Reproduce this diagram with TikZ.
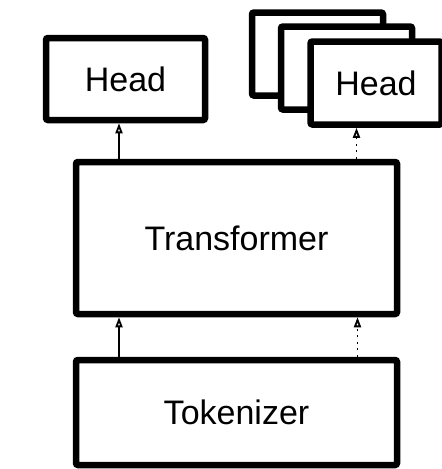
\documentclass[tikz,border=0pt]{standalone}
\usepackage{fontspec}
\setmainfont{Liberation Sans}
\usetikzlibrary{arrows.meta}
\tikzset{block/.style={draw,line width=6.5pt,rounded corners=2pt,fill=white,
        inner sep=0pt,font=\fontsize{34}{40}\selectfont},
    headbox/.style={block,minimum width=159pt,minimum height=82pt},
    stackbox/.style={block,minimum width=131pt,minimum height=83pt},
    bigbox/.style={block,minimum width=321pt},
    flow/.style={-{Triangle[open,width=7pt,length=10pt]},line width=1.8pt},
    dotflow/.style={flow,dash pattern=on 2pt off 4.5pt}}

\begin{document}
\begin{tikzpicture}[x=1pt,y=-1pt]
\useasboundingbox (0,0) rectangle (442,469);
\node[headbox] (head) at (125.5,79) {Head};
\node[stackbox] (headc) at (317.5,54) {};
\node[stackbox] (headb) at (346.5,68) {};
\node[stackbox] (heada) at (376,83) {Head};
\node[bigbox,minimum height=152pt] (trans) at (236.5,238) {Transformer};
\node[bigbox,minimum height=105pt] (tok) at (236.5,412.5) {Tokenizer};
\draw[flow] ([xshift=-117.5pt]trans.north) -- ([xshift=-117.5pt]trans.north |- head.south);
\draw[dotflow] ([xshift=120pt]trans.north) -- ([xshift=120pt]trans.north |- heada.south);
\draw[flow] ([xshift=-117.5pt]tok.north) -- ([xshift=-117.5pt]tok.north |- trans.south);
\draw[dotflow] ([xshift=121pt]tok.north) -- ([xshift=121pt]tok.north |- trans.south);
\end{tikzpicture}
\end{document}
